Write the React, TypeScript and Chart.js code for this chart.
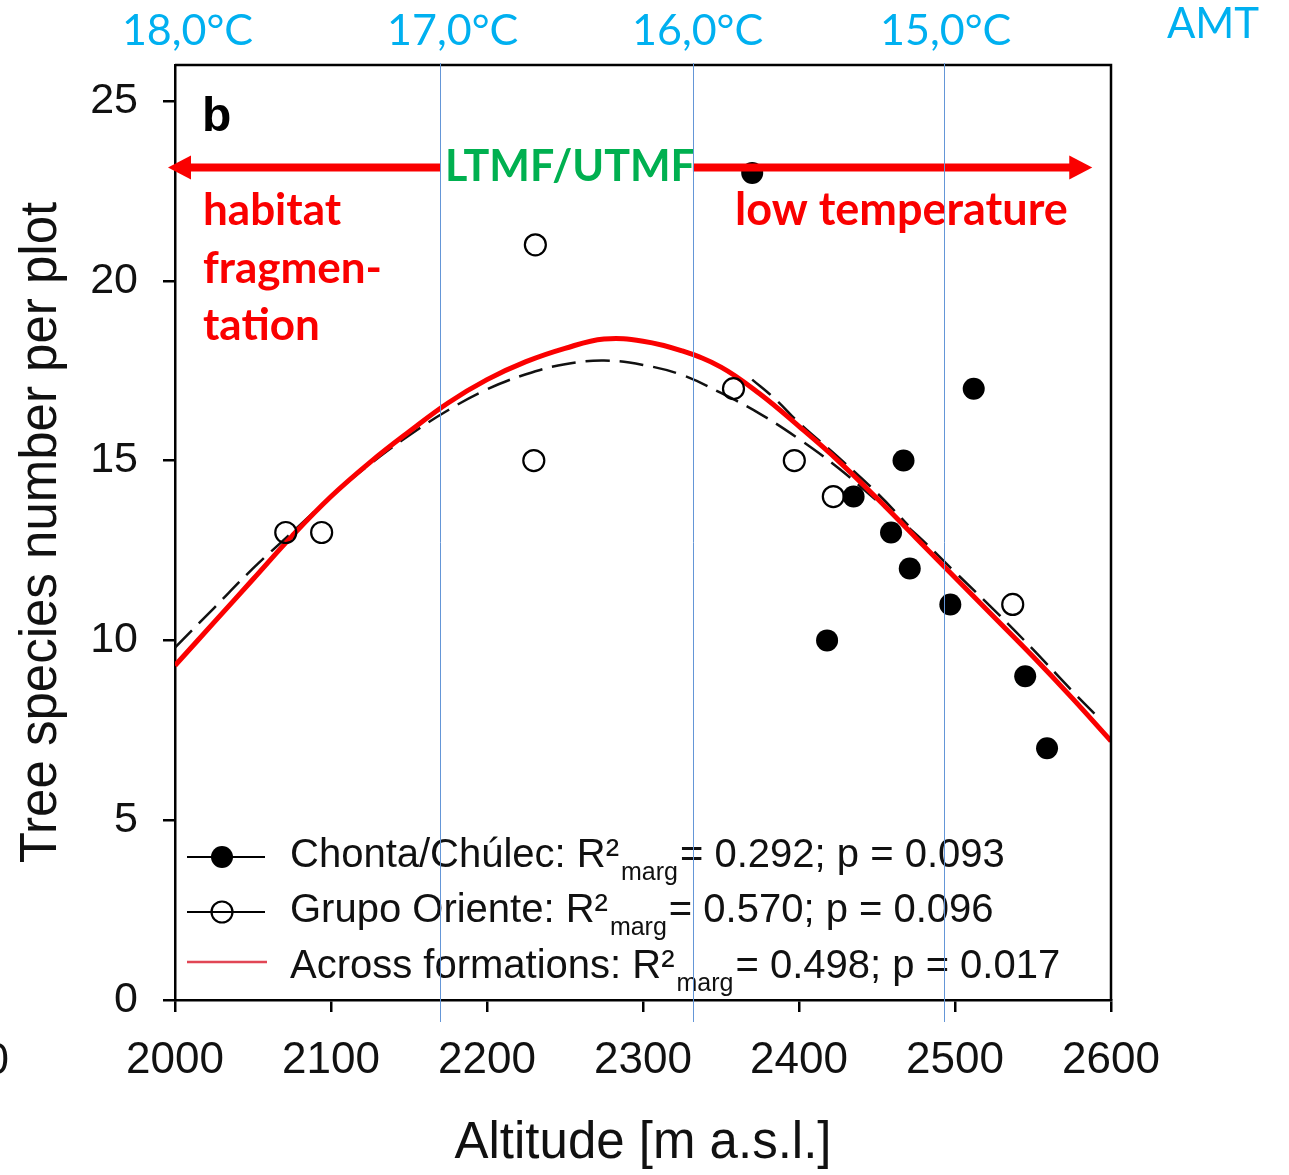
import React, { useEffect, useRef } from 'react';
import { Chart, registerables } from 'chart.js';

Chart.register(...registerables);

// ---- data ----
const chontaAltitude = [2370, 2418, 2435, 2459, 2467, 2471, 2497, 2512, 2545, 2559];
const chontaSpecies = [23, 10, 14, 13, 15, 12, 11, 17, 9, 7];

const grupoAltitude = [2071, 2094, 2230, 2231, 2358, 2397, 2422, 2537];
const grupoSpecies = [13, 13, 15, 21, 17, 15, 14, 11];

const acrossFitAltitude = [2000, 2025, 2050, 2075, 2100, 2125, 2150, 2175, 2200, 2225, 2250, 2275, 2300, 2325, 2350, 2375, 2400, 2425, 2450, 2475, 2500, 2525, 2550, 2575, 2600];
const acrossFitSpecies = [9.3, 10.5, 11.7, 12.9, 14.0, 14.95, 15.8, 16.6, 17.25, 17.75, 18.12, 18.38, 18.32, 18.05, 17.6, 16.85, 15.95, 15.0, 13.95, 12.85, 11.75, 10.65, 9.55, 8.4, 7.2];

const grupoFitAltitude = [2000, 2025, 2050, 2075, 2100, 2125, 2150, 2175, 2200, 2225, 2250, 2275, 2300, 2325, 2350, 2375, 2400, 2425, 2450, 2475, 2500, 2525, 2550, 2575, 2592];
const grupoFitSpecies = [9.8, 10.9, 12.0, 13.0, 14.0, 14.9, 15.7, 16.4, 16.98, 17.4, 17.68, 17.78, 17.66, 17.38, 16.88, 16.3, 15.6, 14.8, 13.88, 12.95, 11.9, 10.85, 9.75, 8.6, 7.85];

const chontaFitAltitude = [2370, 2385, 2400, 2425, 2450, 2470];
const chontaFitSpecies = [17.25, 16.7, 16.05, 15.1, 14.1, 13.2];

const yTicks = [0, 5, 10, 15, 20, 25];
const amtLabels = ['18,0°C', '17,0°C', '16,0°C', '15,0°C'];
const amtLabelAltitude = [2008, 2178, 2335, 2494];
const amtLineAltitude = [2170, 2332, 2493];
const arrowLevel = 23.15;
const arrowLeftAltitude = [1995.5, 2170];
const arrowRightAltitude = [2332, 2588];

const legendRows = [
  { label: 'Chonta/Chúlec: R²', sub: 'marg', tail: '= 0.292; p = 0.093', kind: 'filled' },
  { label: 'Grupo Oriente: R²', sub: 'marg', tail: '= 0.570; p = 0.096', kind: 'open' },
  { label: 'Across formations: R²', sub: 'marg', tail: '= 0.498; p = 0.017', kind: 'red' },
];

const SANS = '"Liberation Sans", Arial, Helvetica, sans-serif';
const CAL = 'Lato, "Open Sans", sans-serif';
const BLUE = '#00b0f0';
const RED = 'rgb(250,0,0)';

const toPts = (xs: number[], ys: number[]) => xs.map((x, i) => ({ x, y: ys[i] }));

const overlay = {
  id: 'overlay',
  afterDraw(chart: any) {
    const { ctx, chartArea: ca } = chart;
    const xs = chart.scales.x;
    const ys = chart.scales.y;
    ctx.save();

    // frame top and right
    ctx.strokeStyle = '#000';
    ctx.lineWidth = 2.5;
    ctx.beginPath();
    ctx.moveTo(ca.left, ca.top);
    ctx.lineTo(ca.right, ca.top);
    ctx.lineTo(ca.right, ca.bottom);
    ctx.stroke();

    // panel letter
    ctx.fillStyle = '#000';
    ctx.textAlign = 'left';
    ctx.textBaseline = 'alphabetic';
    ctx.font = `bold 48px ${SANS}`;
    ctx.fillText('b', 202, 131);

    // legend
    const rowY = [857, 912, 962];
    const baseY = [867, 922, 978];
    legendRows.forEach((r, i) => {
      const cy = rowY[i];
      if (r.kind === 'red') {
        ctx.strokeStyle = 'rgb(225,70,85)';
        ctx.lineWidth = 2.5;
        ctx.beginPath();
        ctx.moveTo(187, cy);
        ctx.lineTo(267, cy);
        ctx.stroke();
      } else {
        ctx.strokeStyle = '#000';
        ctx.lineWidth = 2;
        ctx.beginPath();
        ctx.moveTo(187, cy);
        ctx.lineTo(265, cy);
        ctx.stroke();
        ctx.beginPath();
        if (r.kind === 'filled') {
          ctx.arc(222, cy, 11, 0, Math.PI * 2);
          ctx.fillStyle = '#000';
          ctx.fill();
        } else {
          ctx.arc(222, cy, 10.5, 0, Math.PI * 2);
          ctx.lineWidth = 2.2;
          ctx.stroke();
        }
      }
      ctx.fillStyle = '#111';
      ctx.font = `40px ${SANS}`;
      let x = 290;
      ctx.fillText(r.label, x, baseY[i]);
      x += ctx.measureText(r.label).width + 2;
      ctx.font = `25px ${SANS}`;
      ctx.fillText(r.sub, x, baseY[i] + 13);
      x += ctx.measureText(r.sub).width + 2;
      ctx.font = `40px ${SANS}`;
      ctx.fillText(r.tail, x, baseY[i]);
    });

    // red arrows
    const ay = ys.getPixelForValue(arrowLevel);
    const lx0 = xs.getPixelForValue(arrowLeftAltitude[0]);
    const lx1 = xs.getPixelForValue(arrowLeftAltitude[1]);
    const rx0 = xs.getPixelForValue(arrowRightAltitude[0]);
    const rx1 = xs.getPixelForValue(arrowRightAltitude[1]);
    ctx.strokeStyle = RED;
    ctx.fillStyle = RED;
    ctx.lineWidth = 8;
    ctx.beginPath();
    ctx.moveTo(lx0 + 18, ay);
    ctx.lineTo(lx1, ay);
    ctx.moveTo(rx0, ay);
    ctx.lineTo(rx1 - 18, ay);
    ctx.stroke();
    ctx.beginPath();
    ctx.moveTo(lx0, ay);
    ctx.lineTo(lx0 + 23, ay - 12);
    ctx.lineTo(lx0 + 23, ay + 12);
    ctx.closePath();
    ctx.fill();
    ctx.beginPath();
    ctx.moveTo(rx1, ay);
    ctx.lineTo(rx1 - 23, ay - 12);
    ctx.lineTo(rx1 - 23, ay + 12);
    ctx.closePath();
    ctx.fill();

    // annotations
    ctx.font = `bold 43px ${CAL}`;
    ctx.fillStyle = '#00b050';
    ctx.fillText('LTMF/UTMF', 445, 181);
    ctx.font = `bold 44px ${CAL}`;
    ctx.fillStyle = RED;
    ctx.fillText('habitat', 203, 225);
    ctx.fillText('fragmen-', 203, 283);
    ctx.fillText('tation', 203, 340);
    ctx.font = `bold 45px ${CAL}`;
    ctx.fillText('low temperature', 735, 225);

    // AMT labels
    ctx.fillStyle = BLUE;
    ctx.font = `43px ${CAL}`;
    ctx.textAlign = 'center';
    amtLabels.forEach((t, i) => {
      ctx.fillText(t, xs.getPixelForValue(amtLabelAltitude[i]), 45);
    });
    ctx.font = `42px ${CAL}`;
    ctx.fillText('AMT', 1213, 38);

    // stray label at left edge
    ctx.fillStyle = '#111';
    ctx.font = `44px ${SANS}`;
    ctx.textAlign = 'right';
    ctx.textBaseline = 'middle';
    ctx.fillText('0', 9, 1062);

    // blue vertical lines
    ctx.strokeStyle = 'rgb(100,150,215)';
    ctx.lineWidth = 1;
    amtLineAltitude.forEach((a) => {
      const px = Math.round(xs.getPixelForValue(a)) + 0.5;
      ctx.beginPath();
      ctx.moveTo(px, ca.top - 2);
      ctx.lineTo(px, ca.bottom + 22);
      ctx.stroke();
    });

    ctx.restore();
  },
};

export default function App() {
  const ref = useRef<HTMLCanvasElement | null>(null);

  useEffect(() => {
    if (!ref.current) return;
    const chart = new Chart(ref.current, {
      type: 'scatter',
      data: {
        datasets: [
          {
            label: 'Chonta/Chúlec',
            data: toPts(chontaAltitude, chontaSpecies),
            pointRadius: 11,
            pointHoverRadius: 11,
            backgroundColor: '#000',
            borderColor: '#000',
            borderWidth: 0,
            showLine: false,
          },
          {
            label: 'Grupo Oriente',
            data: toPts(grupoAltitude, grupoSpecies),
            pointRadius: 10.5,
            pointHoverRadius: 10.5,
            backgroundColor: 'rgba(0,0,0,0)',
            borderColor: '#000',
            borderWidth: 2.2,
            showLine: false,
          },
          {
            label: 'Across formations',
            data: toPts(acrossFitAltitude, acrossFitSpecies),
            showLine: true,
            pointRadius: 0,
            borderColor: RED,
            borderWidth: 5,
            tension: 0.4,
            fill: false,
          },
          {
            label: 'Grupo Oriente fit',
            data: toPts(grupoFitAltitude, grupoFitSpecies),
            showLine: true,
            pointRadius: 0,
            borderColor: '#111',
            borderWidth: 2.5,
            borderDash: [24, 10],
            tension: 0.4,
            fill: false,
          },
          {
            label: 'Chonta fit',
            data: toPts(chontaFitAltitude, chontaFitSpecies),
            showLine: true,
            pointRadius: 0,
            borderColor: '#111',
            borderWidth: 2.5,
            borderDash: [24, 10],
            tension: 0.4,
            fill: false,
          },
        ],
      },
      options: {
        animation: false,
        responsive: false,
        devicePixelRatio: 1,
        layout: { padding: { left: 0, right: 178, top: 65, bottom: 0 } },
        plugins: {
          legend: { display: false },
          tooltip: { enabled: false },
        },
        scales: {
          x: {
            type: 'linear',
            min: 2000,
            max: 2600,
            afterFit: (s: any) => { s.height = 175; },
            ticks: {
              stepSize: 100,
              padding: 22,
              color: '#111',
              font: { family: SANS, size: 44 },
              callback: (v: any) => String(v),
              maxRotation: 0,
            },
            grid: {
              drawOnChartArea: false,
              drawTicks: true,
              tickLength: 12,
              color: '#000',
              lineWidth: 2.5,
            },
            border: { display: true, color: '#000', width: 2.5 },
            title: {
              display: true,
              text: 'Altitude [m a.s.l.]',
              color: '#111',
              font: { family: SANS, size: 51 },
              padding: { top: 0, bottom: 0 },
            },
          },
          y: {
            type: 'linear',
            min: 0,
            max: 26,
            afterFit: (s: any) => { s.width = 175; },
            afterBuildTicks: (s: any) => { s.ticks = yTicks.map((v) => ({ value: v })); },
            ticks: {
              padding: 25,
              color: '#111',
              font: { family: SANS, size: 43 },
              callback: (v: any) => String(v),
            },
            grid: {
              drawOnChartArea: false,
              drawTicks: true,
              tickLength: 12,
              color: '#000',
              lineWidth: 2.5,
            },
            border: { display: true, color: '#000', width: 2.5 },
            title: {
              display: true,
              text: 'Tree species number per plot',
              color: '#111',
              font: { family: SANS, size: 51 },
              padding: { top: 11, bottom: 0 },
            },
          },
        },
      },
      plugins: [overlay],
    } as any);

    if ((document as any).fonts && (document as any).fonts.ready) {
      (document as any).fonts.ready.then(() => chart.update());
    }
    return () => chart.destroy();
  }, []);

  return (
    <div style={{ position: 'absolute', left: 0, top: 0, width: 1289, height: 1175, background: '#fff' }}>
      <canvas ref={ref} width={1289} height={1175} style={{ width: 1289, height: 1175, display: 'block' }} />
    </div>
  );
}
